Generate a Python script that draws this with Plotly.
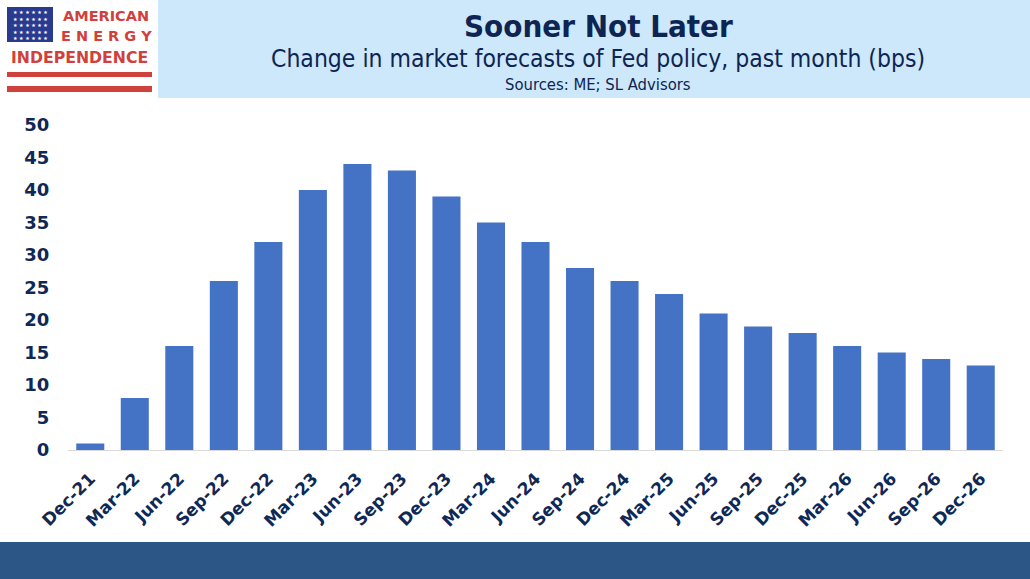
import plotly.graph_objects as go

categories = ["Dec-21", "Mar-22", "Jun-22", "Sep-22", "Dec-22", "Mar-23", "Jun-23",
              "Sep-23", "Dec-23", "Mar-24", "Jun-24", "Sep-24", "Dec-24", "Mar-25",
              "Jun-25", "Sep-25", "Dec-25", "Mar-26", "Jun-26", "Sep-26", "Dec-26"]
values = [1, 8, 16, 26, 32, 40, 44, 43, 39, 35, 32, 28, 26, 24, 21, 19, 18, 16, 15, 14, 13]
y_ticks = [0, 5, 10, 15, 20, 25, 30, 35, 40, 45, 50]

title = "Sooner Not Later"
subtitle = "Change in market forecasts of Fed policy, past month (bps)"
source = "Sources: ME; SL Advisors"

NAVY = "#0f2855"
BAR = "#4472c4"
RED = "#d0413c"
W, H = 1030, 579
L, R, T, B = 68, 27, 125, 129

fig = go.Figure()
fig.add_trace(go.Bar(x=categories, y=values, marker=dict(color=BAR, line=dict(width=0)),
                     width=0.63, hoverinfo="x+y"))


def px_rect(x0, y0, x1, y1, color):
    pw, ph = W - L - R, H - T - B
    return dict(type="rect", xref="paper", yref="paper",
                x0=(x0 - L) / pw, x1=(x1 - L) / pw,
                y0=1 - (y1 - T) / ph, y1=1 - (y0 - T) / ph,
                fillcolor=color, line=dict(width=0), layer="below")


def px_pt(x, y):
    pw, ph = W - L - R, H - T - B
    return (x - L) / pw, 1 - (y - T) / ph


shapes = [
    px_rect(158, 0, 1030, 98, "#cce8fa"),
    px_rect(0, 542, 1030, 579, "#2b5686"),
    px_rect(7, 7, 53, 42, "#2a3b8f"),
    px_rect(7, 72, 152, 77, RED),
    px_rect(7, 86, 152, 92, RED),
]

annotations = []


def txt(x, y, text, size, color, family, xanchor="center", weight="normal"):
    ax, ay = px_pt(x, y)
    annotations.append(dict(x=ax, y=ay, xref="paper", yref="paper", text=text, showarrow=False,
                            xanchor=xanchor, yanchor="middle",
                            font=dict(size=size, color=color, family=family, weight=weight)))


COND = "DejaVu Sans Condensed, Liberation Sans Narrow, Arial Narrow, sans-serif"
txt(598, 26, title, 31, "#0e2452", COND, weight="bold")
txt(598, 59, subtitle, 24.5, "#0e2452", COND)
txt(598, 84, source, 16.5, "#0e2452", COND)

LOGO = "DejaVu Sans, sans-serif"
txt(106, 16, "AMERICAN", 14.5, RED, LOGO, weight="bold")
txt(106, 36, "E N E R G Y", 14.5, RED, LOGO, weight="bold")
txt(79, 57, "INDEPENDENCE", 15.7, RED, LOGO, weight="bold")

# stars on flag
stars = "<br>".join(["★ ★ ★ ★ ★ ★"] * 5)
sx, sy = px_pt(30, 24.5)
annotations.append(dict(x=sx, y=sy, xref="paper", yref="paper", text=stars, showarrow=False,
                        xanchor="center", yanchor="middle",
                        font=dict(size=5, color="white", family="DejaVu Sans")))

TICKFONT = "DejaVu Sans, Verdana, sans-serif"
fig.update_layout(
    width=W, height=H,
    margin=dict(l=L, r=R, t=T, b=B, pad=0),
    paper_bgcolor="white", plot_bgcolor="white",
    showlegend=False,
    shapes=shapes,
    annotations=annotations,
    xaxis=dict(
        type="category", tickangle=-45, showgrid=False, showline=True,
        linecolor="#d9d9d9", linewidth=1,
        ticks="outside", ticklen=11, tickcolor="rgba(0,0,0,0)",
        tickfont=dict(size=17, color=NAVY, family=TICKFONT, weight="bold"),
    ),
    yaxis=dict(
        range=[0, 50], tickvals=y_ticks, showgrid=False, zeroline=False, showline=False,
        ticks="outside", ticklen=14, tickcolor="rgba(0,0,0,0)",
        tickfont=dict(size=18, color=NAVY, family=TICKFONT, weight="bold"),
    ),
    font=dict(family="DejaVu Sans, sans-serif", color=NAVY),
)

fig.write_html("out.html", config={"displayModeBar": False},
               post_script="document.body.style.margin='0';")
